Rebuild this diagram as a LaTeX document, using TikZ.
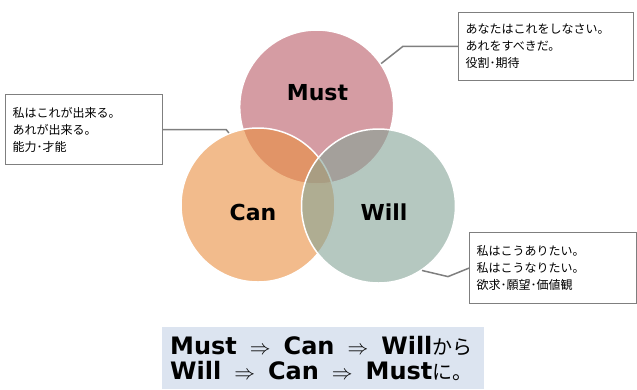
\documentclass[tikz,border=0pt]{standalone}
\usepackage{fontspec}
\setmainfont{DejaVu Sans}
\newfontfamily\jpfont{Noto Sans CJK JP}
\usetikzlibrary{positioning}

\definecolor{mustred}{RGB}{185,90,102}
\definecolor{canorange}{RGB}{233,142,63}
\definecolor{willgreen}{RGB}{132,163,150}
\definecolor{notegray}{RGB}{127,127,127}
\definecolor{summaryblue}{RGB}{220,228,240}

\newcommand{\thenarrow}{\hspace{13pt}{\fontsize{22}{22}\selectfont$\Rightarrow$}\hspace{13pt}}
\newcommand{\jptail}[1]{{\jpfont\mdseries\fontsize{20}{20}\selectfont #1}}

\begin{document}
\begin{tikzpicture}[x=1pt, y=-1pt,
    venn/.style={circle, draw=white, line width=1.5pt, fill opacity=0.6, minimum size=154pt, inner sep=0pt},
    vennlabel/.style={font=\fontsize{22}{22}\selectfont\bfseries},
    note/.style={draw=notegray, line width=1.2pt, fill=white, anchor=north west, align=left,
        font=\jpfont\fontsize{12}{17}\selectfont, inner xsep=7pt, inner ysep=0pt},
    link/.style={draw=notegray, line width=1.5pt}]
    \useasboundingbox (0,0) rectangle (637,389);

    \node[venn, fill=mustred] (must) at (316.7,107) {};
    \node[venn, fill=canorange] (can) at (258,205) {};
    \node[venn, fill=willgreen] (will) at (378.5,206) {};
    \node[vennlabel] (mustlabel) at (317.5,93) {Must};
    \node[vennlabel] (canlabel) at (253,212.5) {Can};
    \node[vennlabel] (willlabel) at (384,212) {Will};

    % callouts
    \node[note, text width=161pt, minimum height=68pt] (mustnote) at (458,11.7) {あなたはこれをしなさい。\\あれをすべきだ。\\役割･期待};
    \node[note, text width=143pt, minimum height=70pt] (cannote) at (5,94) {私はこれが出来る。\\あれが出来る。\\能力･才能};
    \node[note, text width=153pt, minimum height=71pt] (willnote) at (469,232) {私はこうありたい。\\私はこうなりたい。\\欲求･願望･価値観};
    \draw[link] (mustnote.west) -- ++(-55,0) -- (must.34);
    \draw[link] (cannote.east) -- ++(63,0) -- (can.112);
    \draw[link] (willnote.west) -- ++(-21,8.5) -- (will.-56);

    \node[fill=summaryblue, anchor=north west, minimum width=322pt, minimum height=62pt, text width=306pt,
        align=left, inner xsep=8pt, font=\fontsize{24}{24.7}\selectfont\bfseries] (summary) at (162,327)
        {Must\thenarrow Can\thenarrow Will\jptail{から}\\Will\thenarrow Can\thenarrow Must\jptail{に。}};
\end{tikzpicture}
\end{document}
